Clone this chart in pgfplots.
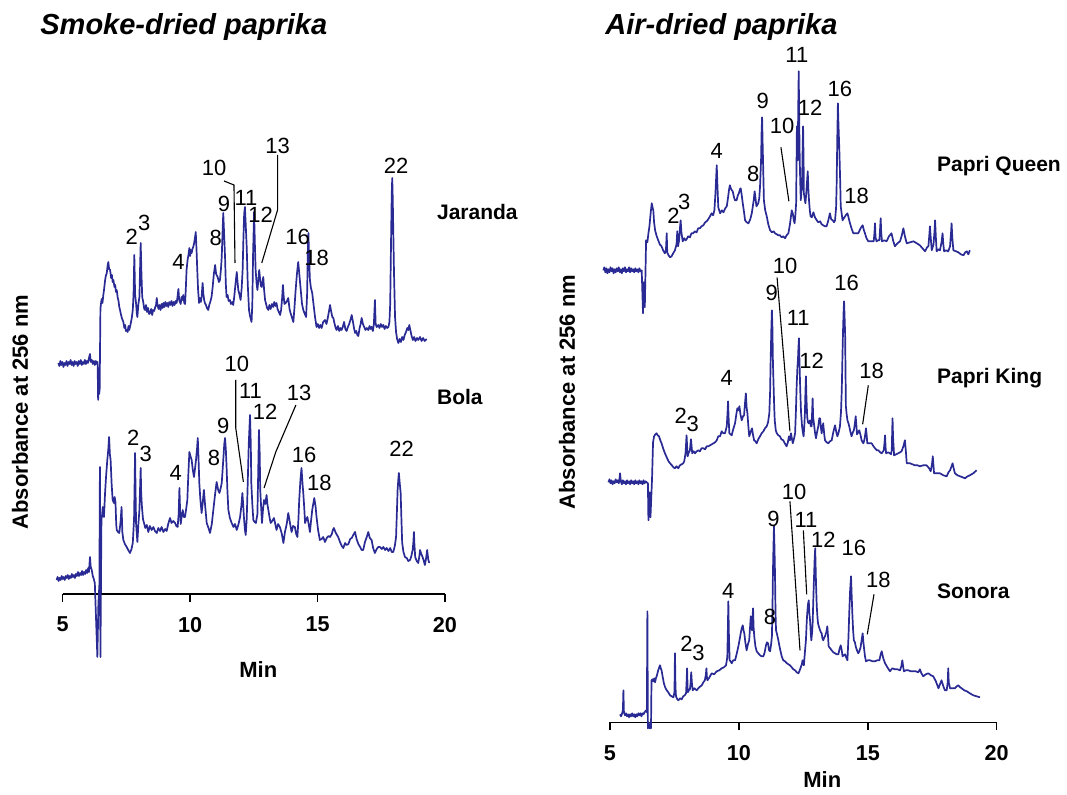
\documentclass[border=0pt]{standalone}
\usepackage{pgfplots}
\pgfplotsset{compat=1.18}
\usepackage{fontspec}
\setmainfont{Liberation Sans}
\definecolor{trace}{RGB}{42,42,148}
\tikzset{trace/.style={color=trace, line width=0.85pt, line join=round},
  lbl/.style={font=\fontsize{11}{12}\selectfont, inner sep=0pt},
  ptr/.style={black, line width=0.55pt}}
\pgfplotsset{chrom/.style={scale only axis, clip=false, xmin=5, xmax=20, ymin=0,
  axis x line=bottom, axis y line=none, x axis line style={-, line width=0.7pt},
  xtick={5,10,15,20}, ytick=\empty, tick align=outside, major tick length=4pt,
  every tick/.style={black, line width=0.7pt},
  xticklabel style={font=\fontsize{10.8}{12}\selectfont\bfseries, yshift=-4pt},
  /pgf/number format/assume math mode=true, anchor=south west}}
\begin{document}
\begin{tikzpicture}[x=0.5pt,y=0.5pt]
\path[use as bounding box] (0,0) rectangle (1067,794);
% ---------------- Smoke-dried ----------------
\begin{axis}[chrom, at={(31.35pt,100pt)}, width=191.15pt, height=230pt, ymax=460]
% Jaranda
\addplot[trace, no marks] coordinates {(4.83,231)(4.87,228)(4.91,233)(4.95,229)(4.99,232)(5.03,227)(5.07,231)(5.11,229)(5.15,233)(5.19,228)(5.23,232)(5.27,230)(5.31,234)(5.35,229)(5.39,232)(5.43,228)(5.47,233)(5.51,230)(5.55,232)(5.59,228)(5.63,233)(5.67,230)(5.71,234)(5.75,229)(5.79,232)(5.83,230)(5.87,234)(5.91,230)(5.95,233)(5.99,231)(6.03,236)(6.07,240)(6.10,232)(6.14,234)(6.18,230)(6.22,233)(6.26,229)(6.30,233)(6.34,230)(6.37,232)
(6.39,194)(6.41,226)(6.43,200)(6.45,205)(6.48,285)(6.50,290)(6.53,295)(6.56,291)(6.59,298)(6.63,306)(6.66,313)(6.69,318)(6.73,321)(6.76,328)(6.79,332)(6.82,325)(6.86,324)(6.90,316)(6.93,319)(6.96,312)(6.99,314)(7.03,307)(7.06,309)(7.09,302)(7.12,304)(7.16,296)(7.19,293)(7.22,287)(7.25,284)(7.29,279)(7.32,276)(7.35,274)(7.38,272)(7.42,266)(7.45,269)(7.48,263)(7.51,264)(7.55,262)(7.58,268)(7.61,264)(7.64,267)(7.68,272)(7.71,276)(7.75,284)(7.78,300)(7.81,339)(7.84,300)(7.88,290)(7.91,280)(7.93,277)(7.97,290)(8.01,297)(8.04,330)(8.06,351)(8.09,320)(8.12,297)(8.16,292)(8.20,285)(8.23,284)(8.27,289)(8.31,282)(8.35,286)(8.39,280)(8.43,281)(8.47,285)(8.51,279)(8.55,284)(8.59,283)(8.63,287)(8.66,288)(8.69,296)(8.72,289)(8.76,285)(8.80,289)(8.84,284)(8.88,290)(8.92,286)(8.95,291)(8.99,287)(9.03,292)(9.07,288)(9.11,291)(9.14,287)(9.18,292)(9.22,289)(9.27,293)(9.31,288)(9.35,292)(9.39,289)(9.43,293)(9.47,291)(9.50,296)(9.54,305)(9.57,294)(9.60,292)(9.63,290)(9.66,297)(9.70,294)(9.73,299)(9.77,291)(9.80,290)(9.83,305)(9.86,324)(9.90,334)(9.94,340)(9.97,346)(10.00,338)(10.03,344)(10.06,341)(10.09,345)(10.12,347)(10.15,350)(10.19,356)(10.22,362)(10.25,345)(10.28,324)(10.31,305)(10.35,291)(10.38,296)(10.42,292)(10.45,297)(10.49,311)(10.52,300)(10.55,294)(10.58,291)(10.62,289)(10.66,286)(10.71,284)(10.75,289)(10.79,292)(10.84,297)(10.88,306)(10.93,320)(10.98,329)(11.02,320)(11.08,317)(11.13,312)(11.17,314)(11.21,325)(11.24,337)(11.27,360)(11.30,381)(11.33,362)(11.37,337)(11.40,310)(11.43,297)(11.47,299)(11.51,293)(11.56,294)(11.60,290)(11.65,292)(11.69,289)(11.73,297)(11.76,305)(11.80,315)(11.83,322)(11.86,312)(11.89,304)(11.93,300)(11.98,294)(12.02,305)(12.06,324)(12.09,355)(12.12,380)(12.15,387)(12.18,370)(12.22,347)(12.26,310)(12.31,284)(12.35,278)(12.39,274)(12.41,272)(12.44,290)(12.47,340)(12.51,382)(12.54,350)(12.57,324)(12.61,310)(12.64,304)(12.68,315)(12.71,324)(12.75,314)(12.78,308)(12.81,307)(12.84,312)(12.87,317)(12.90,305)(12.94,294)(12.98,290)(13.02,286)(13.07,284)(13.11,289)(13.16,285)(13.21,290)(13.26,287)(13.30,292)(13.35,288)(13.39,291)(13.43,285)(13.48,282)(13.53,279)(13.57,284)(13.61,296)(13.64,309)(13.67,298)(13.70,290)(13.75,291)(13.80,293)(13.85,296)(13.90,285)(13.94,281)(14.00,276)(14.05,272)(14.09,285)(14.14,304)(14.19,320)(14.24,332)(14.29,318)(14.34,304)(14.39,290)(14.44,284)(14.50,280)(14.55,277)(14.59,300)(14.62,345)(14.64,361)(14.67,335)(14.70,314)(14.74,306)(14.79,301)(14.84,290)(14.90,277)(14.96,267)(15.01,270)(15.06,266)(15.11,269)(15.16,266)(15.22,272)(15.29,274)(15.35,270)(15.40,276)(15.45,283)(15.49,289)(15.53,283)(15.58,277)(15.62,276)(15.66,271)(15.71,266)(15.75,264)(15.80,268)(15.85,263)(15.90,266)(15.94,264)(15.99,267)(16.04,272)(16.09,265)(16.14,263)(16.19,267)(16.24,270)(16.30,275)(16.34,279)(16.39,272)(16.43,266)(16.47,261)(16.52,263)(16.56,259)(16.60,258)(16.65,266)(16.69,270)(16.73,276)(16.78,270)(16.83,267)(16.88,264)(16.93,266)(16.99,264)(17.04,268)(17.08,265)(17.12,267)(17.17,263)(17.21,270)(17.25,294)(17.28,270)(17.32,267)(17.38,269)(17.43,266)(17.48,270)(17.53,267)(17.58,269)(17.63,265)(17.68,268)(17.73,266)(17.78,267)(17.82,272)(17.85,290)(17.88,347)(17.91,400)(17.93,416)(17.95,395)(17.97,364)(18.00,320)(18.04,277)(18.08,262)(18.12,255)(18.17,251)(18.22,255)(18.27,252)(18.32,257)(18.37,254)(18.42,259)(18.47,262)(18.52,266)(18.56,264)(18.60,269)(18.64,264)(18.69,258)(18.74,254)(18.79,257)(18.84,253)(18.90,256)(18.95,254)(19.02,257)(19.08,253)(19.14,256)(19.20,253)(19.28,255)};
% Bola
\addplot[trace, no marks] coordinates {(4.76,14)(4.80,17)(4.84,13)(4.88,16)(4.92,14)(4.96,18)(5.00,15)(5.04,17)(5.08,14)(5.12,18)(5.16,16)(5.20,19)(5.24,15)(5.28,18)(5.32,16)(5.36,20)(5.40,17)(5.44,19)(5.48,16)(5.52,20)(5.56,18)(5.60,22)(5.64,18)(5.68,21)(5.72,19)(5.76,23)(5.80,19)(5.84,22)(5.88,20)(5.92,24)(5.96,21)(6.00,26)(6.03,22)(6.07,37)(6.10,27)(6.14,24)(6.18,18)(6.22,15)(6.26,11)
(6.36,-63)(6.40,-10)(6.44,10)(6.46,127)(6.48,-63)(6.52,74)(6.55,80)(6.57,87)(6.60,78)(6.62,77)(6.66,100)(6.70,117)(6.75,134)(6.79,145)(6.82,157)(6.85,140)(6.88,134)(6.92,110)(6.96,94)(7.01,91)(7.04,97)(7.07,92)(7.10,70)(7.12,64)(7.17,62)(7.22,61)(7.27,72)(7.31,87)(7.34,62)(7.38,54)(7.44,50)(7.51,47)(7.57,44)(7.64,41)(7.70,45)(7.75,51)(7.80,75)(7.84,141)(7.86,100)(7.88,70)(7.93,52)(7.97,70)(8.01,84)(8.06,126)(8.08,100)(8.11,87)(8.15,75)(8.19,71)(8.24,66)(8.30,69)(8.36,62)(8.42,68)(8.49,64)(8.56,67)(8.62,63)(8.69,61)(8.75,66)(8.82,63)(8.88,67)(8.95,62)(9.02,65)(9.08,63)(9.14,70)(9.21,76)(9.27,71)(9.34,73)(9.41,71)(9.46,68)(9.51,67)(9.55,80)(9.58,106)(9.61,80)(9.63,70)(9.67,78)(9.71,84)(9.75,77)(9.80,77)(9.85,86)(9.89,94)(9.93,120)(9.97,142)(10.01,138)(10.06,134)(10.10,125)(10.15,117)(10.19,125)(10.23,134)(10.27,145)(10.30,156)(10.33,135)(10.36,111)(10.40,95)(10.45,81)(10.49,90)(10.54,104)(10.59,88)(10.65,71)(10.72,66)(10.78,61)(10.85,70)(10.91,84)(10.98,100)(11.04,112)(11.10,104)(11.15,101)(11.20,106)(11.24,111)(11.30,134)(11.34,150)(11.37,156)(11.40,145)(11.43,127)(11.46,105)(11.50,84)(11.56,76)(11.63,71)(11.70,67)(11.76,70)(11.83,64)(11.90,70)(11.96,77)(12.01,88)(12.05,101)(12.08,90)(12.11,77)(12.15,64)(12.18,59)(12.22,75)(12.26,111)(12.30,150)(12.35,179)(12.38,150)(12.40,111)(12.44,90)(12.48,74)(12.53,72)(12.58,71)(12.62,77)(12.64,80)(12.67,120)(12.70,164)(12.73,140)(12.75,104)(12.79,85)(12.82,71)(12.86,85)(12.90,94)(12.95,90)(13.00,99)(13.03,90)(13.07,84)(13.12,76)(13.16,71)(13.22,73)(13.29,76)(13.34,70)(13.39,64)(13.45,70)(13.52,67)(13.59,61)(13.66,51)(13.72,62)(13.79,70)(13.85,81)(13.91,72)(13.98,62)(14.04,68)(14.11,67)(14.16,60)(14.21,57)(14.25,75)(14.28,94)(14.33,115)(14.37,126)(14.41,110)(14.44,101)(14.48,85)(14.51,71)(14.56,75)(14.60,77)(14.65,70)(14.70,62)(14.74,72)(14.79,84)(14.83,90)(14.87,96)(14.92,88)(14.96,77)(15.02,64)(15.09,54)(15.16,55)(15.22,57)(15.29,52)(15.36,56)(15.43,58)(15.49,57)(15.56,60)(15.60,64)(15.64,66)(15.70,62)(15.76,59)(15.81,57)(15.88,52)(15.95,48)(16.01,46)(16.08,51)(16.14,49)(16.21,50)(16.28,55)(16.34,56)(16.40,59)(16.47,62)(16.53,55)(16.60,50)(16.67,47)(16.73,44)(16.79,44)(16.86,52)(16.93,57)(16.99,62)(17.05,56)(17.12,54)(17.18,46)(17.25,41)(17.32,45)(17.38,47)(17.45,47)(17.52,45)(17.58,47)(17.65,44)(17.71,46)(17.78,43)(17.85,46)(17.91,42)(17.97,42)(18.03,48)(18.08,57)(18.11,80)(18.14,104)(18.17,115)(18.19,121)(18.22,112)(18.26,101)(18.29,75)(18.32,51)(18.37,42)(18.43,37)(18.50,36)(18.56,33)(18.63,34)(18.68,38)(18.73,44)(18.76,52)(18.78,62)(18.80,50)(18.83,37)(18.89,33)(18.95,31)(18.99,37)(19.02,44)(19.07,40)(19.12,37)(19.17,33)(19.21,29)(19.26,36)(19.30,44)(19.34,35)(19.38,31)};
% Jaranda labels
\node[lbl] at (axis cs:7.71,357) {2};
\node[lbl] at (axis cs:8.20,371) {3};
\node[lbl] at (axis cs:9.54,332) {4};
\node[lbl] at (axis cs:11.00,356) {8};
\node[lbl] at (axis cs:11.33,390) {9};
\node[lbl] at (axis cs:10.94,426) {10};
\node[lbl] at (axis cs:12.19,396) {11};
\node[lbl] at (axis cs:12.77,379) {12};
\node[lbl] at (axis cs:13.43,448) {13};
\node[lbl] at (axis cs:14.22,357) {16};
\node[lbl] at (axis cs:14.96,336) {18};
\node[lbl] at (axis cs:18.08,428) {22};
\draw[ptr] (axis cs:11.33,413) -- (axis cs:11.72,409) -- (axis cs:11.76,331);
\draw[ptr] (axis cs:13.43,439) -- (axis cs:13.43,384) -- (axis cs:12.81,331);
% Bola labels
\node[lbl] at (axis cs:7.77,156) {2};
\node[lbl] at (axis cs:8.26,140) {3};
\node[lbl] at (axis cs:9.44,121) {4};
\node[lbl] at (axis cs:10.94,136) {8};
\node[lbl] at (axis cs:11.30,168) {9};
\node[lbl] at (axis cs:11.83,230) {10};
\node[lbl] at (axis cs:12.37,203) {11};
\node[lbl] at (axis cs:12.94,182) {12};
\node[lbl] at (axis cs:14.28,201) {13};
\node[lbl] at (axis cs:14.47,139) {16};
\node[lbl] at (axis cs:15.07,111) {18};
\node[lbl] at (axis cs:18.30,145) {22};
\draw[ptr] (axis cs:11.79,214) -- (axis cs:11.79,166) -- (axis cs:12.09,112);
\draw[ptr] (axis cs:14.15,189) -- (axis cs:13.36,142) -- (axis cs:12.90,106);
\end{axis}
% ---------------- Air-dried ----------------
\begin{axis}[chrom, at={(305pt,35.85pt)}, width=193.35pt, height=330pt, ymax=660]
% Papri Queen
\addplot[trace, no marks] coordinates {(4.74,452)(4.78,455)(4.82,450)(4.86,454)(4.90,449)(4.94,453)(4.98,450)(5.02,455)(5.06,451)(5.10,454)(5.14,449)(5.18,453)(5.22,450)(5.26,454)(5.30,451)(5.34,455)(5.38,450)(5.42,453)(5.46,449)(5.50,454)(5.54,451)(5.58,455)(5.62,450)(5.66,453)(5.70,451)(5.74,455)(5.78,450)(5.82,454)(5.86,451)(5.90,453)(5.94,450)(5.98,454)(6.02,451)(6.06,453)(6.10,450)(6.14,454)(6.18,451)(6.23,452)(6.28,409)(6.31,440)(6.35,415)(6.40,482)(6.45,480)(6.49,489)(6.53,496)(6.58,510)(6.62,519)(6.65,515)(6.68,512)(6.71,500)(6.75,492)(6.80,487)(6.87,482)(6.93,478)(7.00,476)(7.06,472)(7.13,469)(7.17,472)(7.20,489)(7.22,470)(7.27,467)(7.33,465)(7.39,466)(7.45,469)(7.52,472)(7.58,478)(7.61,491)(7.64,476)(7.68,482)(7.72,496)(7.74,502)(7.77,490)(7.82,481)(7.88,484)(7.93,482)(7.97,483)(8.03,486)(8.10,485)(8.16,489)(8.23,489)(8.29,491)(8.36,490)(8.42,494)(8.49,494)(8.55,496)(8.62,497)(8.69,500)(8.75,501)(8.81,503)(8.88,506)(8.94,509)(9.00,507)(9.05,512)(9.09,529)(9.14,557)(9.17,535)(9.20,515)(9.27,509)(9.34,512)(9.40,510)(9.47,514)(9.53,516)(9.58,525)(9.62,533)(9.65,537)(9.70,533)(9.76,531)(9.81,525)(9.85,522)(9.91,522)(9.96,527)(10.00,529)(10.04,533)(10.07,534)(10.11,527)(10.15,519)(10.20,510)(10.24,502)(10.30,500)(10.37,499)(10.44,503)(10.50,509)(10.54,516)(10.58,523)(10.61,531)(10.64,525)(10.68,516)(10.75,519)(10.79,524)(10.82,536)(10.86,562)(10.88,590)(10.90,605)(10.92,580)(10.95,545)(10.97,522)(11.02,512)(11.08,506)(11.14,498)(11.21,492)(11.28,490)(11.35,491)(11.40,489)(11.47,488)(11.53,487)(11.59,487)(11.66,485)(11.72,486)(11.79,484)(11.85,487)(11.92,489)(11.98,498)(12.05,512)(12.09,509)(12.13,502)(12.16,499)(12.19,507)(12.22,519)(12.25,596)(12.28,562)(12.30,610)(12.32,651)(12.34,600)(12.36,562)(12.38,540)(12.40,522)(12.43,532)(12.45,535)(12.47,570)(12.49,596)(12.51,560)(12.52,529)(12.55,524)(12.58,519)(12.61,528)(12.63,536)(12.67,551)(12.70,530)(12.72,522)(12.75,512)(12.78,506)(12.83,505)(12.89,510)(12.95,505)(13.02,502)(13.08,500)(13.15,501)(13.21,498)(13.27,497)(13.34,496)(13.40,496)(13.46,501)(13.53,509)(13.58,503)(13.64,502)(13.69,500)(13.73,502)(13.77,515)(13.79,536)(13.82,590)(13.84,619)(13.86,600)(13.90,569)(13.93,540)(13.95,516)(14.02,502)(14.07,504)(14.12,506)(14.17,508)(14.21,509)(14.26,504)(14.31,499)(14.38,493)(14.44,489)(14.53,489)(14.63,489)(14.72,494)(14.80,497)(14.85,492)(14.89,489)(14.95,484)(15.02,481)(15.12,481)(15.23,481)(15.26,490)(15.28,499)(15.30,485)(15.34,481)(15.40,482)(15.45,482)(15.48,495)(15.50,504)(15.52,490)(15.55,481)(15.64,482)(15.73,481)(15.82,486)(15.92,489)(15.98,482)(16.05,476)(16.15,479)(16.25,481)(16.32,487)(16.38,494)(16.44,486)(16.51,479)(16.64,480)(16.77,481)(16.90,479)(17.02,477)(17.12,474)(17.22,471)(17.30,475)(17.35,476)(17.38,485)(17.41,496)(17.44,485)(17.48,472)(17.55,478)(17.59,492)(17.61,502)(17.64,485)(17.67,471)(17.74,473)(17.80,472)(17.86,480)(17.90,489)(17.93,478)(17.96,471)(18.04,472)(18.12,471)(18.19,476)(18.23,490)(18.25,499)(18.28,484)(18.32,472)(18.42,471)(18.51,470)(18.61,468)(18.71,467)(18.78,470)(18.84,471)(18.90,468)(18.96,472)};
% Papri King
\addplot[trace, no marks] coordinates {(4.94,240)(4.98,243)(5.02,239)(5.06,242)(5.10,238)(5.14,241)(5.18,239)(5.22,243)(5.26,240)(5.30,242)(5.34,239)(5.37,244)(5.39,249)(5.42,241)(5.46,238)(5.50,242)(5.54,239)(5.58,241)(5.62,238)(5.66,242)(5.70,239)(5.74,241)(5.78,238)(5.82,242)(5.86,239)(5.90,241)(5.94,238)(5.98,242)(6.02,239)(6.06,241)(6.10,238)(6.14,242)(6.18,239)(6.22,241)(6.26,238)(6.30,242)(6.34,239)(6.38,241)(6.42,240)(6.47,239)(6.49,202)(6.53,230)(6.57,205)(6.63,243)(6.67,280)(6.71,286)(6.76,288)(6.81,289)(6.85,287)(6.90,286)(6.95,282)(7.00,279)(7.06,274)(7.13,269)(7.20,265)(7.27,261)(7.33,259)(7.40,257)(7.46,255)(7.52,254)(7.58,256)(7.65,254)(7.71,257)(7.78,258)(7.84,259)(7.88,261)(7.93,269)(7.97,287)(8.01,266)(8.06,270)(8.10,272)(8.14,283)(8.19,269)(8.25,271)(8.30,269)(8.36,271)(8.43,272)(8.49,271)(8.55,274)(8.62,274)(8.69,273)(8.75,276)(8.82,276)(8.88,277)(8.95,278)(9.01,279)(9.08,280)(9.14,282)(9.20,286)(9.27,286)(9.33,291)(9.40,289)(9.46,289)(9.53,296)(9.56,310)(9.58,321)(9.60,305)(9.63,289)(9.68,288)(9.72,287)(9.78,293)(9.85,299)(9.90,308)(9.94,314)(9.98,312)(10.02,316)(10.06,308)(10.11,302)(10.16,306)(10.20,307)(10.24,320)(10.27,329)(10.30,315)(10.33,309)(10.37,295)(10.40,286)(10.45,290)(10.51,294)(10.55,287)(10.59,282)(10.64,281)(10.69,279)(10.75,283)(10.82,286)(10.88,289)(10.95,291)(11.01,294)(11.08,296)(11.13,300)(11.18,309)(11.21,330)(11.23,360)(11.26,395)(11.28,412)(11.30,395)(11.32,360)(11.34,342)(11.37,315)(11.39,302)(11.43,292)(11.47,289)(11.53,287)(11.59,286)(11.65,283)(11.72,282)(11.78,279)(11.85,276)(11.90,280)(11.94,286)(11.98,282)(12.02,289)(12.06,283)(12.09,279)(12.14,284)(12.18,289)(12.21,310)(12.24,336)(12.27,355)(12.29,362)(12.31,375)(12.33,384)(12.35,360)(12.38,332)(12.41,310)(12.45,296)(12.48,290)(12.51,286)(12.54,298)(12.56,309)(12.58,330)(12.60,346)(12.62,325)(12.65,305)(12.68,300)(12.71,299)(12.74,300)(12.76,302)(12.79,296)(12.82,296)(12.84,310)(12.86,324)(12.88,305)(12.91,299)(12.95,290)(12.99,284)(13.03,290)(13.08,296)(13.12,304)(13.15,304)(13.18,295)(13.21,289)(13.24,295)(13.27,299)(13.31,288)(13.34,282)(13.40,280)(13.47,279)(13.53,281)(13.60,282)(13.66,290)(13.73,297)(13.78,290)(13.82,286)(13.87,290)(13.92,296)(13.96,310)(13.99,332)(14.02,370)(14.04,392)(14.06,410)(14.08,421)(14.10,405)(14.12,389)(14.14,340)(14.15,316)(14.18,308)(14.21,302)(14.25,299)(14.28,296)(14.33,290)(14.37,286)(14.42,290)(14.46,292)(14.50,299)(14.53,306)(14.56,296)(14.58,288)(14.63,290)(14.67,292)(14.72,287)(14.76,282)(14.80,280)(14.83,279)(14.88,284)(14.93,294)(14.96,286)(14.98,279)(15.07,279)(15.15,279)(15.22,276)(15.28,274)(15.35,272)(15.41,272)(15.48,270)(15.54,269)(15.62,272)(15.65,280)(15.67,287)(15.69,275)(15.71,269)(15.79,270)(15.86,269)(15.90,268)(15.93,272)(15.95,295)(15.96,304)(15.98,285)(16.02,267)(16.10,268)(16.18,269)(16.25,270)(16.31,271)(16.38,276)(16.44,282)(16.48,270)(16.51,259)(16.58,259)(16.64,259)(16.73,258)(16.83,257)(16.93,257)(17.02,256)(17.15,257)(17.28,257)(17.38,254)(17.44,251)(17.49,258)(17.52,266)(17.55,256)(17.57,249)(17.68,249)(17.80,249)(17.93,247)(18.06,246)(18.13,250)(18.19,252)(18.25,256)(18.29,259)(18.34,253)(18.38,249)(18.48,247)(18.58,246)(18.68,245)(18.77,244)(18.87,246)(18.96,247)(19.09,249)(19.22,252)};
% Sonora
\addplot[trace, no marks] coordinates {(5.39,8)(5.43,6)(5.47,9)(5.50,12)(5.52,32)(5.54,10)(5.58,7)(5.62,9)(5.66,6)(5.70,8)(5.74,5)(5.78,8)(5.82,6)(5.86,9)(5.90,6)(5.94,8)(5.98,5)(6.02,8)(6.06,6)(6.10,9)(6.14,7)(6.18,9)(6.22,6)(6.26,9)(6.30,8)(6.34,10)(6.40,12)(6.43,10)(6.45,111)(6.47,-6)(6.50,0)(6.54,-6)(6.59,-6)(6.61,42)(6.65,43)(6.68,41)(6.72,44)(6.75,40)(6.78,44)(6.81,46)(6.84,49)(6.87,52)(6.91,55)(6.94,57)(6.97,54)(7.00,52)(7.04,46)(7.09,39)(7.14,35)(7.20,32)(7.26,30)(7.33,27)(7.39,26)(7.46,25)(7.50,30)(7.52,69)(7.54,35)(7.56,26)(7.61,23)(7.65,22)(7.72,24)(7.78,23)(7.84,26)(7.90,27)(7.95,29)(7.97,40)(7.99,54)(8.01,35)(8.02,30)(8.06,32)(8.10,33)(8.13,40)(8.15,50)(8.18,38)(8.21,32)(8.28,34)(8.36,32)(8.46,35)(8.56,37)(8.62,40)(8.68,42)(8.72,48)(8.74,54)(8.76,45)(8.78,42)(8.86,45)(8.94,49)(9.04,48)(9.14,51)(9.24,52)(9.33,54)(9.42,55)(9.50,57)(9.55,65)(9.57,90)(9.59,121)(9.61,90)(9.64,62)(9.68,61)(9.72,59)(9.78,62)(9.85,62)(9.91,68)(9.98,76)(10.03,83)(10.07,89)(10.11,94)(10.15,97)(10.18,92)(10.21,89)(10.25,80)(10.30,72)(10.35,78)(10.40,82)(10.44,98)(10.46,106)(10.48,95)(10.51,92)(10.53,105)(10.55,114)(10.57,95)(10.60,85)(10.64,76)(10.69,71)(10.75,69)(10.82,67)(10.88,66)(10.95,66)(11.00,70)(11.05,77)(11.09,80)(11.13,79)(11.17,72)(11.21,71)(11.25,78)(11.28,86)(11.30,110)(11.32,149)(11.34,175)(11.36,196)(11.38,175)(11.40,149)(11.42,110)(11.44,92)(11.48,88)(11.53,82)(11.59,74)(11.66,66)(11.72,62)(11.79,61)(11.86,59)(11.92,58)(11.98,57)(12.05,55)(12.11,53)(12.18,52)(12.24,50)(12.31,49)(12.36,52)(12.40,55)(12.44,58)(12.47,62)(12.50,58)(12.52,57)(12.56,70)(12.60,82)(12.63,100)(12.65,109)(12.68,118)(12.71,122)(12.73,110)(12.76,102)(12.79,88)(12.81,82)(12.84,90)(12.86,99)(12.89,125)(12.91,142)(12.94,165)(12.96,174)(12.99,140)(13.02,116)(13.05,104)(13.07,99)(13.11,95)(13.15,92)(13.18,90)(13.21,89)(13.24,84)(13.27,82)(13.30,84)(13.34,86)(13.39,90)(13.43,96)(13.46,85)(13.48,76)(13.54,74)(13.60,72)(13.66,70)(13.73,69)(13.79,68)(13.86,68)(13.90,73)(13.95,77)(13.99,72)(14.02,66)(14.07,67)(14.12,68)(14.16,65)(14.21,62)(14.25,85)(14.28,109)(14.31,130)(14.35,146)(14.37,130)(14.40,109)(14.43,92)(14.46,82)(14.50,80)(14.54,75)(14.58,72)(14.63,69)(14.67,71)(14.72,75)(14.76,82)(14.80,89)(14.83,80)(14.85,75)(14.89,66)(14.93,61)(15.00,62)(15.09,62)(15.18,61)(15.28,61)(15.36,62)(15.45,62)(15.50,68)(15.54,71)(15.60,64)(15.67,59)(15.76,55)(15.86,51)(15.95,54)(16.05,53)(16.15,53)(16.25,52)(16.30,56)(16.34,62)(16.37,56)(16.40,51)(16.48,52)(16.57,52)(16.67,51)(16.77,51)(16.86,51)(16.96,50)(17.02,53)(17.08,49)(17.15,46)(17.25,48)(17.35,49)(17.45,47)(17.54,46)(17.64,41)(17.74,34)(17.80,38)(17.86,42)(17.93,36)(17.99,32)(18.06,32)(18.10,40)(18.12,54)(18.14,40)(18.19,34)(18.28,34)(18.38,34)(18.45,36)(18.51,37)(18.58,35)(18.64,34)(18.74,32)(18.84,31)(18.96,29)(19.09,27)(19.22,26)(19.35,25)};
% Papri Queen labels
\node[lbl] at (axis cs:7.46,506) {2};
\node[lbl] at (axis cs:7.88,520) {3};
\node[lbl] at (axis cs:9.14,571) {4};
\node[lbl] at (axis cs:10.56,548) {8};
\node[lbl] at (axis cs:10.92,621) {9};
\node[lbl] at (axis cs:11.68,596) {10};
\node[lbl] at (axis cs:12.25,667) {11};
\node[lbl] at (axis cs:12.76,614) {12};
\node[lbl] at (axis cs:13.92,633) {16};
\node[lbl] at (axis cs:14.57,526) {18};
\draw[ptr] (axis cs:11.63,575) -- (axis cs:11.94,521);
% Papri King labels
\node[lbl] at (axis cs:7.74,306) {2};
\node[lbl] at (axis cs:8.21,298) {3};
\node[lbl] at (axis cs:9.53,344) {4};
\node[lbl] at (axis cs:11.27,429) {9};
\node[lbl] at (axis cs:11.79,456) {10};
\node[lbl] at (axis cs:12.30,404) {11};
\node[lbl] at (axis cs:12.82,361) {12};
\node[lbl] at (axis cs:14.18,439) {16};
\node[lbl] at (axis cs:15.15,351) {18};
\draw[ptr] (axis cs:11.48,445) -- (axis cs:11.98,291);
\draw[ptr] (axis cs:15.02,337) -- (axis cs:14.80,298);
% Sonora labels
\node[lbl] at (axis cs:7.97,78) {2};
\node[lbl] at (axis cs:8.43,69) {3};
\node[lbl] at (axis cs:9.59,131) {4};
\node[lbl] at (axis cs:11.21,105) {8};
\node[lbl] at (axis cs:11.34,203) {9};
\node[lbl] at (axis cs:12.14,230) {10};
\node[lbl] at (axis cs:12.60,202) {11};
\node[lbl] at (axis cs:13.28,182) {12};
\node[lbl] at (axis cs:14.46,174) {16};
\node[lbl] at (axis cs:15.41,142) {18};
\draw[ptr] (axis cs:11.98,221) -- (axis cs:12.37,72);
\draw[ptr] (axis cs:12.50,192) -- (axis cs:12.63,128);
\draw[ptr] (axis cs:15.24,128) -- (axis cs:14.98,88);
\end{axis}
% ---------------- texts ----------------
\node[anchor=west, inner sep=0pt, font=\fontsize{14.5}{16}\selectfont\bfseries\itshape] at (40,767) {Smoke-dried paprika};
\node[anchor=west, inner sep=0pt, font=\fontsize{14.5}{16}\selectfont\bfseries\itshape] at (605,767) {Air-dried paprika};
\node[rotate=90, font=\fontsize{11}{12}\selectfont\bfseries] at (20,382) {Absorbance at 256 nm};
\node[rotate=90, font=\fontsize{11}{12}\selectfont\bfseries] at (567,402) {Absorbance at 256 nm};
\node[font=\fontsize{11}{12}\selectfont\bfseries] at (258.3,124) {Min};
\node[font=\fontsize{11}{12}\selectfont\bfseries] at (822.3,14) {Min};
\begin{scope}[every node/.style={anchor=west, inner sep=0pt, font=\fontsize{10.5}{12}\selectfont\bfseries}]
\node at (436.7,582.3) {Jaranda};
\node at (436.7,397.3) {Bola};
\node at (936.7,628) {Papri Queen};
\node at (936.7,415.7) {Papri King};
\node at (936.7,203) {Sonora};
\end{scope}
\end{tikzpicture}
\end{document}
